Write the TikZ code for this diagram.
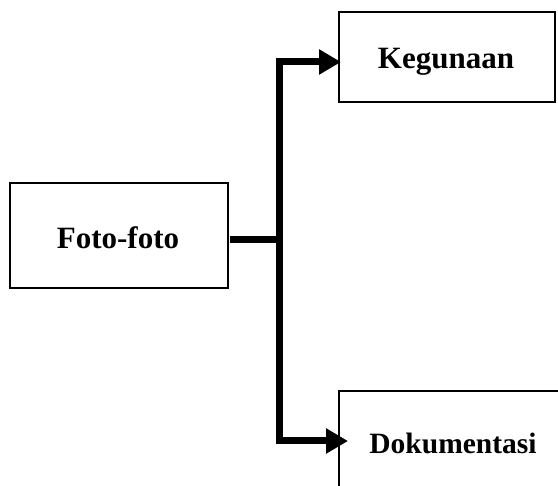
\documentclass[tikz,border=0pt]{standalone}
\usepackage{fontspec}
\setmainfont{Liberation Serif}
\usetikzlibrary{arrows.meta}
\begin{document}
\begin{tikzpicture}[x=1pt,y=-1pt,
  box/.style={draw,line width=1.2pt},
  label/.style={font=\bfseries\fontsize{31}{36}\selectfont,inner sep=0pt},
  smalllabel/.style={font=\bfseries\fontsize{29.5}{34}\selectfont,inner sep=0pt},
  link/.style={line width=7pt},
  linkarrow/.style={line width=7pt,-{Triangle[length=22pt,width=24pt]}}]
  \useasboundingbox (0,0) rectangle (558,486);
  \begin{scope}
    \clip (0,0) rectangle (558,486);
    % boxes
    \draw[box] (10,183) rectangle (228,288);
    \draw[box] (339,12) rectangle (555,102);
    \draw[box] (339,391) rectangle (575,500);
  \end{scope}
  % labels
  \node[label] (foto) at (118,238) {Foto-foto};
  \node[label] (keg) at (446,62) {Kegunaan};
  \node[smalllabel] (dok) at (453,443) {Dokumentasi};
  % connector anchor points
  \coordinate (src) at (230,240);
  \coordinate (j) at (279,240);
  \coordinate (kegin) at (341,62);
  \coordinate (dokin) at (348,441);
  % connectors
  \draw[link] (src) -- ([xshift=3.5pt]j);
  \draw[linkarrow] (j) |- (kegin);
  \draw[linkarrow] (j) |- (dokin);
\end{tikzpicture}
\end{document}
